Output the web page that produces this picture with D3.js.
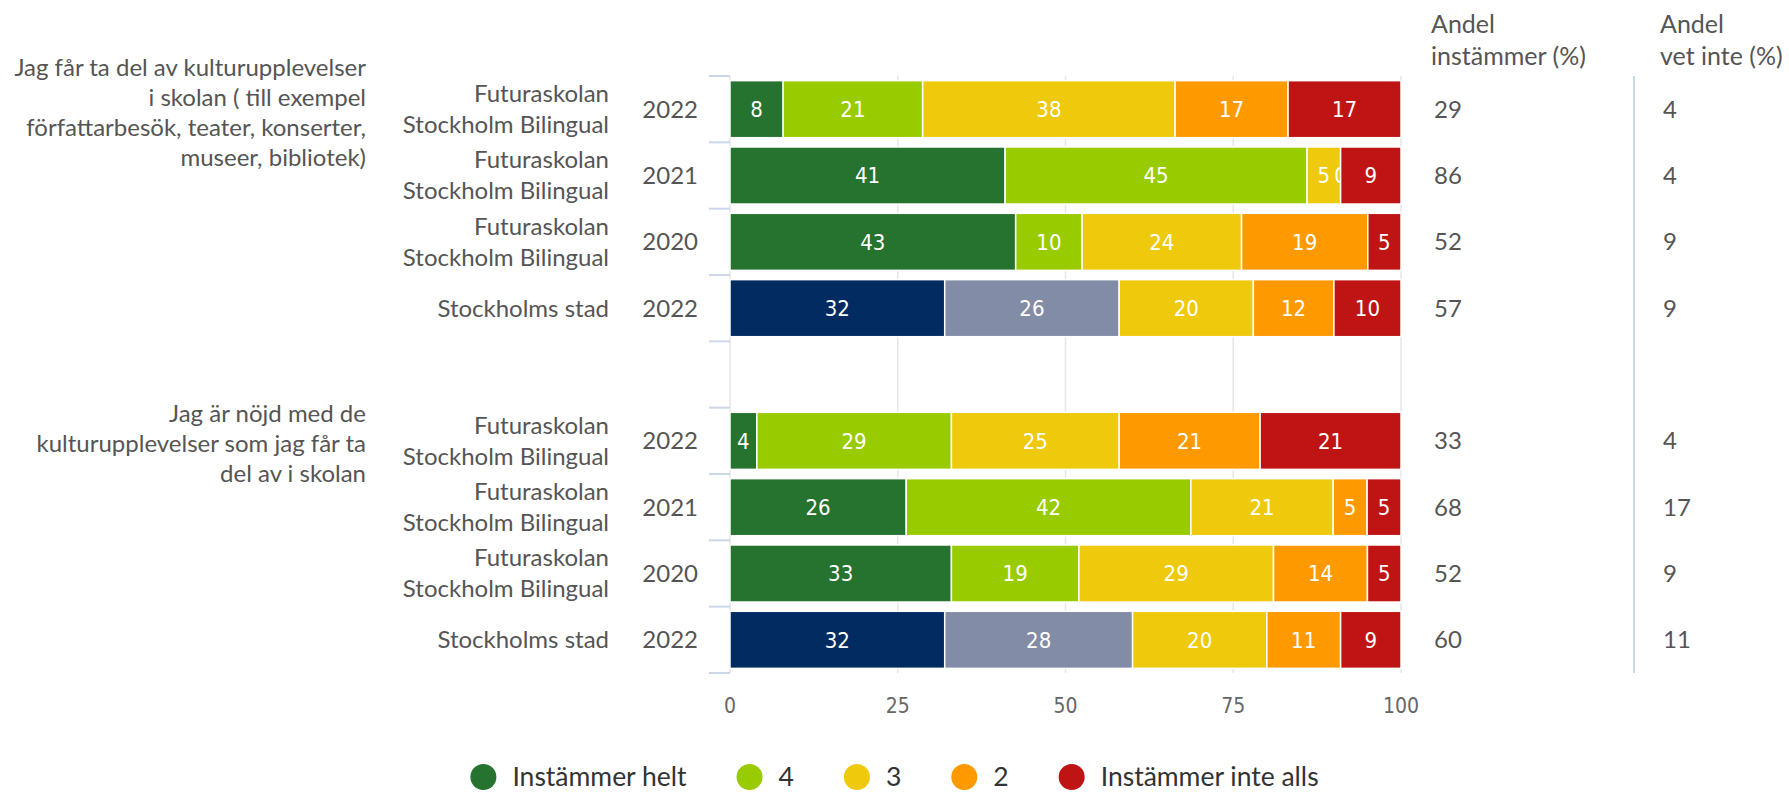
<!DOCTYPE html>
<html>
<head>
<meta charset="utf-8">
<script src="https://cdn.jsdelivr.net/npm/d3@7"></script>
<style>
  body { margin: 0; background: #fff; }
  svg { font-family: Lato, "Open Sans", sans-serif; display: block; }
  .lbl { fill: #555; font-size: 24px; }
  .hdr { fill: #555; font-size: 25px; }
  .seg-label { fill: #fff; font-size: 22px; font-family: "Liberation Sans Narrow", "DejaVu Sans Condensed", Lato, sans-serif; }
  .xtick { fill: #666; font-size: 21px; font-family: "Liberation Sans Narrow", "DejaVu Sans Condensed", Lato, sans-serif; }
  .legend text { fill: #333; font-size: 26.5px; }
</style>
</head>
<body>
<div id="chart"></div>
<script>
// Questions (left labels), one block per group
const questionLines = [
    ["Jag får ta del av kulturupplevelser", "i skolan ( till exempel", "författarbesök, teater, konserter,", "museer, bibliotek)"],
    ["Jag är nöjd med de", "kulturupplevelser som jag får ta", "del av i skolan "]
];

// Rows (null = spacer between the two questions)
const rowSchools = [
    "Futuraskolan|Stockholm Bilingual", "Futuraskolan|Stockholm Bilingual", "Futuraskolan|Stockholm Bilingual", "Stockholms stad",
    null,
    "Futuraskolan|Stockholm Bilingual", "Futuraskolan|Stockholm Bilingual", "Futuraskolan|Stockholm Bilingual", "Stockholms stad"
];
const rowYears = ["2022", "2021", "2020", "2022", null, "2022", "2021", "2020", "2022"];

// Series values (percent)
const seriesNames = ["Instämmer helt", "4", "3", "2", "Instämmer inte alls"];
const instammerHelt = [8, 41, 43, 32, null, 4, 26, 33, 32];
const fyra = [21, 45, 10, 26, null, 29, 42, 19, 28];
const tre = [38, 5, 24, 20, null, 25, 21, 29, 20];
const tva = [17, 0, 19, 12, null, 21, 5, 14, 11];
const instammerInteAlls = [17, 9, 5, 10, null, 21, 5, 5, 9];

// Side columns
const andelInstammer = [29, 86, 52, 57, null, 33, 68, 52, 60];
const andelVetInte = [4, 4, 9, 9, null, 4, 17, 9, 11];

const xTicks = [0, 25, 50, 75, 100];

const colors = ["#26732f", "#99cc00", "#efc90b", "#fe9a00", "#bf1414"];
const cityColors = ["#022b62", "#838ca7", "#efc90b", "#fe9a00", "#bf1414"];

const W = 1789, H = 792;
const svg = d3.select("#chart").append("svg")
    .attr("width", W)
    .attr("height", H);

const plot = { left: 730, right: 1401, top: 76, bottom: 673 };

const x = d3.scaleLinear().domain([0, 1]).range([plot.left, plot.right]);
const y = d3.scaleBand()
    .domain(d3.range(rowYears.length))
    .range([plot.top, plot.bottom])
    .paddingInner(0.14)
    .paddingOuter(0.07);

// Build stacked data (normalised to 100%)
const rows = rowYears.map((yr, i) => ({
    i,
    vals: [instammerHelt[i], fyra[i], tre[i], tva[i], instammerInteAlls[i]]
})).filter(d => d.vals[0] !== null);

const stack = d3.stack()
    .keys(d3.range(5))
    .value((d, k) => d.vals[k])
    .offset(d3.stackOffsetExpand);
const stacked = stack(rows);

// Grid lines
svg.append("g")
    .selectAll("line")
    .data(xTicks)
    .join("line")
    .attr("x1", d => x(d / 100))
    .attr("x2", d => x(d / 100))
    .attr("y1", plot.top)
    .attr("y2", plot.bottom)
    .attr("stroke", "#e6e6e6")
    .attr("stroke-width", 1.5);

// Category ticks (between rows)
const step = y.step();
svg.append("g")
    .selectAll("line")
    .data(d3.range(rowYears.length + 1))
    .join("line")
    .attr("x1", plot.left - 21)
    .attr("x2", plot.left)
    .attr("y1", d => plot.top + d * step)
    .attr("y2", d => plot.top + d * step)
    .attr("stroke", "#ccd6eb")
    .attr("stroke-width", 2);

// Bars
const seg = svg.append("g");
stacked.forEach((layer, k) => {
    layer.forEach(p => {
        const row = p.data;
        const isCity = rowSchools[row.i] === "Stockholms stad";
        const x0 = x(p[0]), x1 = x(p[1]);
        seg.append("rect")
            .attr("x", x0)
            .attr("y", y(row.i))
            .attr("width", Math.max(0, x1 - x0))
            .attr("height", y.bandwidth())
            .attr("fill", (isCity ? cityColors : colors)[k])
            .attr("stroke", "#fff")
            .attr("stroke-width", 1.5);
        seg.append("text")
            .attr("class", "seg-label")
            .attr("x", (x0 + x1) / 2)
            .attr("y", y(row.i) + y.bandwidth() / 2)
            .attr("dy", "0.36em")
            .attr("text-anchor", "middle")
            .text(row.vals[k]);
    });
});

// X axis labels
svg.append("g")
    .selectAll("text")
    .data(xTicks)
    .join("text")
    .attr("class", "xtick")
    .attr("x", d => x(d / 100))
    .attr("y", 713)
    .attr("text-anchor", "middle")
    .text(d => d);

// Row labels: school and year
const rowMid = i => y(i) + y.bandwidth() / 2;
rowSchools.forEach((s, i) => {
    if (!s) return;
    const lines = s.split("|");
    const t = svg.append("text")
        .attr("class", "lbl")
        .attr("text-anchor", "end")
        .attr("x", 609)
        .attr("y", rowMid(i) - (lines.length - 1) * 15.5);
    lines.forEach((ln, j) => {
        t.append("tspan").attr("x", 609).attr("dy", j === 0 ? "0.35em" : 31).text(ln);
    });
    svg.append("text")
        .attr("class", "lbl")
        .attr("text-anchor", "end")
        .attr("x", 698)
        .attr("y", rowMid(i))
        .attr("dy", "0.35em")
        .text(rowYears[i]);
});

// Question labels, centred on the first row of each group
const groupFirstRow = [0, 5];
questionLines.forEach((lines, g) => {
    const cy = rowMid(groupFirstRow[g]) + 3;
    const t = svg.append("text")
        .attr("class", "lbl")
        .attr("text-anchor", "end")
        .attr("y", cy - (lines.length - 1) * 15);
    lines.forEach((ln, j) => {
        t.append("tspan")
            .attr("x", 366)
            .attr("dy", j === 0 ? "0.35em" : 30)
            .text(ln);
    });
});

// Side columns
const cols = [
    { x: 1431, header: ["Andel", "instämmer (%)"], values: andelInstammer },
    { x: 1660, header: ["Andel", "vet inte (%)"], values: andelVetInte }
];
cols.forEach(c => {
    c.header.forEach((h, j) => {
        svg.append("text")
            .attr("class", "hdr")
            .attr("x", c.x)
            .attr("y", 33 + j * 32)
            .text(h);
    });
    c.values.forEach((v, i) => {
        if (v === null) return;
        svg.append("text")
            .attr("class", "lbl")
            .attr("x", c.x + 3)
            .attr("y", rowMid(i))
            .attr("dy", "0.35em")
            .text(v);
    });
});

// Separator line between side columns
svg.append("line")
    .attr("x1", 1634).attr("x2", 1634)
    .attr("y1", plot.top).attr("y2", plot.bottom)
    .attr("stroke", "#ccd6eb")
    .attr("stroke-width", 2);

// Legend, centred on the chart
const legend = svg.append("g").attr("class", "legend");
const itemGap = 50;
let cursor = 0;
seriesNames.forEach((name, k) => {
    const item = legend.append("g").attr("transform", `translate(${cursor},0)`);
    item.append("circle")
        .attr("cx", 13)
        .attr("cy", 0)
        .attr("r", 13)
        .attr("fill", colors[k]);
    const txt = item.append("text")
        .attr("x", 42)
        .attr("y", 0)
        .attr("dy", "0.35em")
        .text(name);
    cursor += 42 + txt.node().getComputedTextLength() + itemGap;
});
const legendWidth = cursor - itemGap;
legend.attr("transform", `translate(${W / 2 - legendWidth / 2},777)`);
</script>
</body>
</html>
